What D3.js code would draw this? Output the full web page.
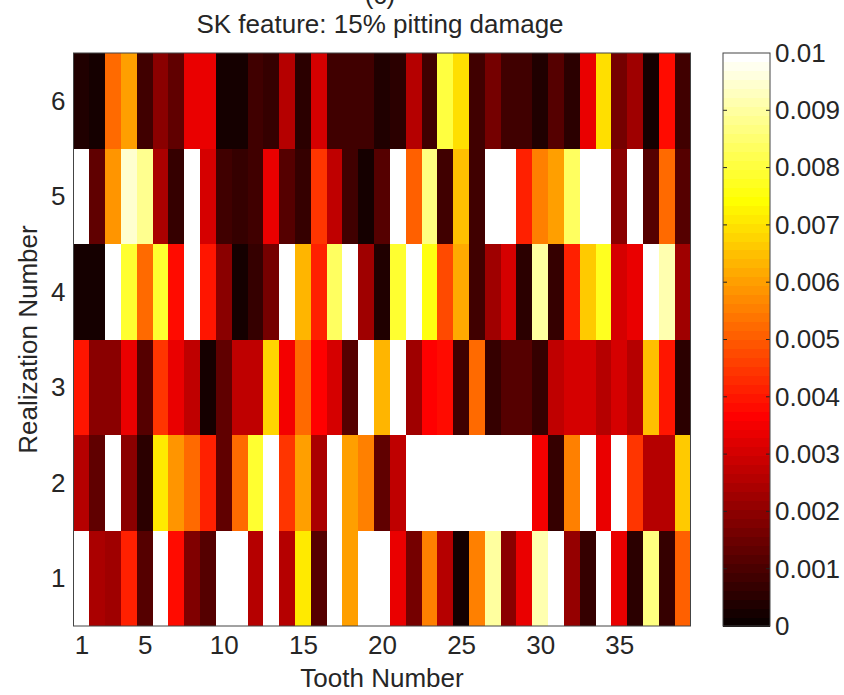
<!DOCTYPE html>
<html>
<head>
<meta charset="utf-8">
<script src="https://cdn.jsdelivr.net/npm/d3@7"></script>
<style>
  body { margin: 0; background: #fff; }
  svg text { font-family: "Liberation Sans", Arial, sans-serif; fill: #262626; }
</style>
</head>
<body>
<div id="chart"></div>
<script>
// teeth along x, realizations along y
var teeth = d3.range(1, 40);
var realizations = [1, 2, 3, 4, 5, 6];
var xTicks = [1, 5, 10, 15, 20, 25, 30, 35];
var cbTicks = [0, 0.001, 0.002, 0.003, 0.004, 0.005, 0.006, 0.007, 0.008, 0.009, 0.01];

// SK feature values per realization (white = 0.01 or more)
var real1 = [0.0100, 0.0024, 0.0023, 0.0042, 0.0012, 0.0100, 0.0038, 0.0018, 0.0012, 0.0100,
             0.0100, 0.0025, 0.0100, 0.0025, 0.0071, 0.0012, 0.0100, 0.0060, 0.0100, 0.0100,
             0.0033, 0.0016, 0.0055, 0.0025, 0.0003, 0.0056, 0.0090, 0.0019, 0.0033, 0.0092,
             0.0100, 0.0021, 0.0007, 0.0100, 0.0033, 0.0005, 0.0086, 0.0007, 0.0050];
var real2 = [0.0026, 0.0014, 0.0100, 0.0019, 0.0005, 0.0071, 0.0059, 0.0053, 0.0042, 0.0013,
             0.0052, 0.0079, 0.0100, 0.0045, 0.0060, 0.0024, 0.0100, 0.0060, 0.0055, 0.0013,
             0.0028, 0.0100, 0.0100, 0.0100, 0.0100, 0.0100, 0.0100, 0.0100, 0.0100, 0.0035,
             0.0007, 0.0056, 0.0100, 0.0034, 0.0100, 0.0045, 0.0026, 0.0026, 0.0066];
var real3 = [0.0040, 0.0019, 0.0019, 0.0033, 0.0012, 0.0044, 0.0033, 0.0027, 0.0003, 0.0014,
             0.0027, 0.0028, 0.0068, 0.0035, 0.0052, 0.0036, 0.0031, 0.0012, 0.0100, 0.0063,
             0.0100, 0.0022, 0.0036, 0.0039, 0.0009, 0.0053, 0.0007, 0.0012, 0.0011, 0.0007,
             0.0028, 0.0031, 0.0031, 0.0025, 0.0031, 0.0025, 0.0065, 0.0040, 0.0006];
var real4 = [0.0003, 0.0002, 0.0100, 0.0079, 0.0053, 0.0079, 0.0038, 0.0100, 0.0040, 0.0020,
             0.0003, 0.0007, 0.0016, 0.0100, 0.0063, 0.0041, 0.0084, 0.0100, 0.0022, 0.0004,
             0.0079, 0.0100, 0.0075, 0.0048, 0.0062, 0.0009, 0.0023, 0.0031, 0.0005, 0.0090,
             0.0007, 0.0042, 0.0067, 0.0077, 0.0031, 0.0033, 0.0100, 0.0092, 0.0023];
var real5 = [0.0100, 0.0014, 0.0058, 0.0095, 0.0088, 0.0024, 0.0007, 0.0100, 0.0030, 0.0009,
             0.0007, 0.0008, 0.0033, 0.0012, 0.0007, 0.0045, 0.0027, 0.0008, 0.0002, 0.0011,
             0.0100, 0.0051, 0.0086, 0.0009, 0.0065, 0.0009, 0.0100, 0.0100, 0.0041, 0.0055,
             0.0060, 0.0084, 0.0100, 0.0100, 0.0020, 0.0100, 0.0012, 0.0053, 0.0011];
var real6 = [0.0004, 0.0002, 0.0053, 0.0060, 0.0009, 0.0020, 0.0014, 0.0033, 0.0033, 0.0003,
             0.0003, 0.0009, 0.0007, 0.0026, 0.0005, 0.0030, 0.0009, 0.0009, 0.0009, 0.0004,
             0.0006, 0.0026, 0.0009, 0.0081, 0.0070, 0.0009, 0.0016, 0.0009, 0.0009, 0.0004,
             0.0012, 0.0006, 0.0034, 0.0070, 0.0016, 0.0022, 0.0002, 0.0038, 0.0009];
var series = [real1, real2, real3, real4, real5, real6];

var svgWidth = 844, svgHeight = 695;
var plot = {left: 73.5, right: 690.5, top: 53, bottom: 626};
var cbar = {left: 723, right: 770};
var cmax = 0.01;

var svg = d3.select("#chart").append("svg")
    .attr("width", svgWidth)
    .attr("height", svgHeight);

svg.append("rect").attr("width", svgWidth).attr("height", svgHeight).attr("fill", "#fff");

// matlab "hot" colormap, 64 levels
function hot(v) {
    var k = Math.max(0, Math.min(63, Math.floor(v / cmax * 64)));
    var r = Math.min(1, (k + 1) / 24),
        g = Math.max(0, Math.min(1, (k + 1 - 24) / 24)),
        b = Math.max(0, Math.min(1, (k + 1 - 48) / 16));
    return d3.rgb(r * 255, g * 255, b * 255).toString();
}

var x = d3.scaleLinear().domain([0.5, 39.5]).range([plot.left, plot.right]);
var y = d3.scaleLinear().domain([0.5, 6.5]).range([plot.bottom, plot.top]);

var cells = [];
series.forEach(function(vals, i) {
    vals.forEach(function(v, j) {
        cells.push({tooth: teeth[j], real: realizations[i], value: v});
    });
});

svg.append("g")
    .selectAll("rect")
    .data(cells)
    .enter()
    .append("rect")
    .attr("x", function(d) { return x(d.tooth - 0.5); })
    .attr("y", function(d) { return y(d.real + 0.5); })
    .attr("width", function(d) { return x(d.tooth + 0.5) - x(d.tooth - 0.5) + 0.3; })
    .attr("height", function(d) { return y(d.real - 0.5) - y(d.real + 0.5) + 0.3; })
    .attr("fill", function(d) { return hot(d.value); })
    .attr("shape-rendering", "crispEdges");

svg.append("rect")
    .attr("x", plot.left).attr("y", plot.top)
    .attr("width", plot.right - plot.left).attr("height", plot.bottom - plot.top)
    .attr("fill", "none").attr("stroke", "#444").attr("stroke-width", 1);

var xAxis = svg.append("g")
    .attr("transform", "translate(0," + plot.bottom + ")")
    .call(d3.axisBottom(x).tickValues(xTicks).tickSize(0).tickPadding(10)
        .tickFormat(d3.format("d")));
var yAxis = svg.append("g")
    .attr("transform", "translate(" + plot.left + ",0)")
    .call(d3.axisLeft(y).tickValues(realizations).tickSize(0).tickPadding(8)
        .tickFormat(d3.format("d")));

[xAxis, yAxis].forEach(function(g) {
    g.select(".domain").remove();
    g.attr("font-family", null).attr("font-size", null);
    g.selectAll("text").style("font-size", "26px");
});

// colorbar
var cy = d3.scaleLinear().domain([0, cmax]).range([plot.bottom, plot.top]);
var bands = d3.range(64);
svg.append("g")
    .selectAll("rect")
    .data(bands)
    .enter()
    .append("rect")
    .attr("x", cbar.left)
    .attr("width", cbar.right - cbar.left)
    .attr("y", function(k) { return cy((k + 1) / 64 * cmax); })
    .attr("height", function(k) { return cy(k / 64 * cmax) - cy((k + 1) / 64 * cmax) + 0.5; })
    .attr("fill", function(k) { return hot((k + 0.5) / 64 * cmax); })
    .attr("shape-rendering", "crispEdges");

svg.append("g")
    .selectAll("g")
    .data(cbTicks.slice(1, -1))
    .enter()
    .append("g")
    .each(function(v) {
        var g = d3.select(this);
        g.append("line").attr("x1", cbar.left).attr("x2", cbar.left + 4)
            .attr("y1", cy(v)).attr("y2", cy(v)).attr("stroke", "#222");
        g.append("line").attr("x1", cbar.right - 4).attr("x2", cbar.right)
            .attr("y1", cy(v)).attr("y2", cy(v)).attr("stroke", "#222");
    });

svg.append("rect")
    .attr("x", cbar.left).attr("y", plot.top)
    .attr("width", cbar.right - cbar.left).attr("height", plot.bottom - plot.top)
    .attr("fill", "none").attr("stroke", "#444").attr("stroke-width", 1);

var cbAxis = svg.append("g")
    .attr("transform", "translate(" + cbar.right + ",0)")
    .call(d3.axisRight(cy).tickValues(cbTicks).tickSize(0).tickPadding(5)
        .tickFormat(function(v) { return v === 0 ? "0" : String(+v.toFixed(3)); }));
cbAxis.select(".domain").remove();
cbAxis.attr("font-family", null).attr("font-size", null);
cbAxis.selectAll("text").style("font-size", "26px");

// titles
var midX = (plot.left + plot.right) / 2;
svg.append("text")
    .attr("x", midX - 2).attr("y", 4)
    .attr("text-anchor", "middle")
    .style("font-size", "26px")
    .text("(c)");
svg.append("text")
    .attr("x", midX - 2).attr("y", 33)
    .attr("text-anchor", "middle")
    .style("font-size", "26px")
    .text("SK feature: 15% pitting damage");
svg.append("text")
    .attr("x", midX).attr("y", 687)
    .attr("text-anchor", "middle")
    .style("font-size", "26px")
    .text("Tooth Number");
svg.append("text")
    .attr("transform", "translate(37," + ((plot.top + plot.bottom) / 2) + ") rotate(-90)")
    .attr("text-anchor", "middle")
    .style("font-size", "26px")
    .text("Realization Number");
</script>
</body>
</html>
